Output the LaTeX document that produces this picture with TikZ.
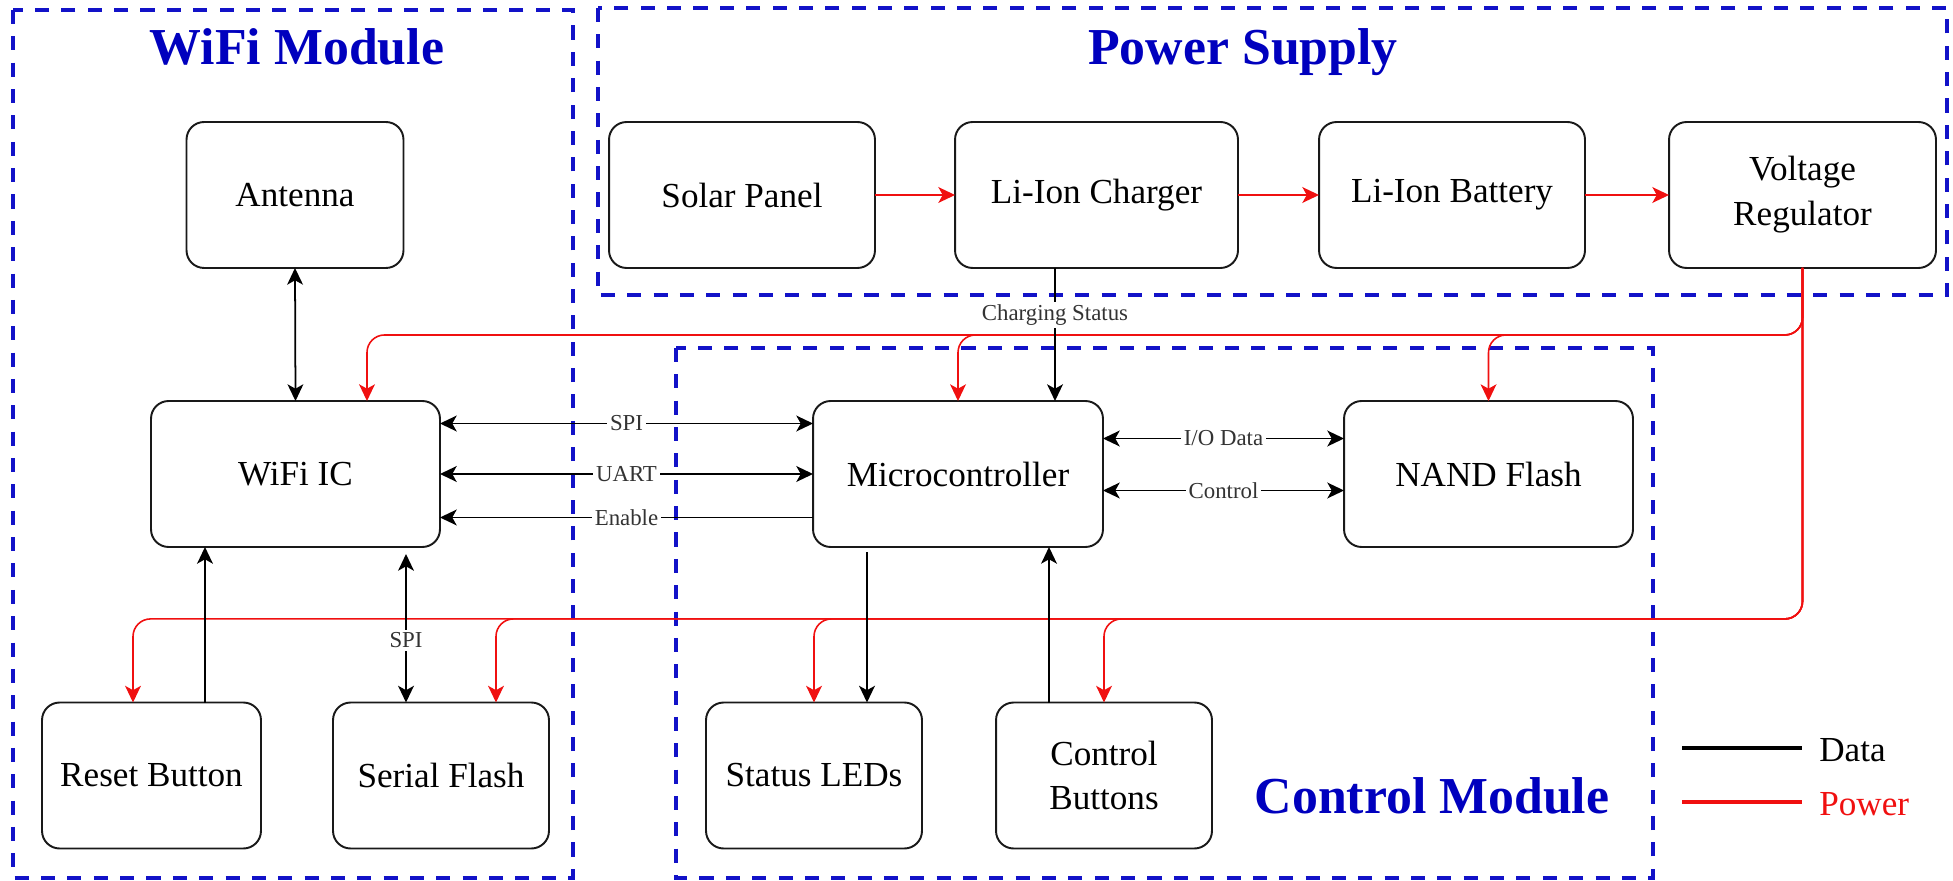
\documentclass[tikz,border=0pt]{standalone}
\usepackage{fontspec}
\setmainfont{Liberation Serif}
\usetikzlibrary{arrows.meta,calc}
\definecolor{grpblue}{RGB}{18,18,200}
\definecolor{ttlblue}{RGB}{0,0,190}
\definecolor{pwrred}{RGB}{240,16,16}
\tikzset{
  >={Stealth[length=9.5pt,width=9pt,inset=2.5pt]},
  blk/.style={draw=black!90, line width=1.1pt, rounded corners=10pt, inner sep=0pt, outer sep=0pt,
              minimum height=2.92cm, align=center, font=\fontsize{20}{25.5}\selectfont},
  grp/.style={draw=grpblue, line width=2.6pt, dash pattern=on 8pt off 7pt},
  ttl/.style={text=ttlblue, font=\fontsize{29.5}{32}\selectfont\bfseries, anchor=base, inner sep=0pt},
  data/.style={draw=black, line width=1pt, ->},
  data2/.style={draw=black, line width=1pt, <->},
  power/.style={draw=pwrred, line width=0.9pt, ->, rounded corners=10pt},
  lbl/.style={fill=white, inner sep=1.5pt, text=black!80, font=\fontsize{13}{15}\selectfont},
  legtxt/.style={anchor=west, inner sep=0pt, font=\fontsize{20}{24}\selectfont}
}
\begin{document}
\begin{tikzpicture}[x=0.02cm, y=-0.02cm]
\useasboundingbox (0,0) rectangle (1953,881);

% group boxes
\draw[grp] (13,10) rectangle (573,878);
\draw[grp] (598,8) rectangle (1947,295);
\draw[grp] (676,348) rectangle (1653,878);

% titles
\node[ttl] (t1) at (297,65) {WiFi Module};
\node[ttl] (t2) at (1243,65) {Power Supply};
\node[ttl] (t3) at (1432,813) {Control Module};

% blocks
\node[blk, minimum width=4.34cm] (ant) at (295,195) {Antenna};
\node[blk, minimum width=5.32cm] (solar) at (742,195) {Solar Panel};
\node[blk, minimum width=5.66cm] (charger) at (1096.5,195) {Li-Ion Charger};
\node[blk, minimum width=5.32cm] (batt) at (1452,195) {Li-Ion Battery};
\node[blk, minimum width=5.34cm] (reg) at (1802.5,195) {Voltage\\Regulator};
\node[blk, minimum width=5.78cm] (wifi) at (295.5,474) {WiFi IC};
\node[blk, minimum width=5.8cm] (mcu) at (958,474) {Microcontroller};
\node[blk, minimum width=5.78cm] (nand) at (1488.5,474) {NAND Flash};
\node[blk, minimum width=4.38cm] (reset) at (151.5,775.5) {Reset Button};
\node[blk, minimum width=4.32cm] (sflash) at (441,775.5) {Serial Flash};
\node[blk, minimum width=4.32cm] (leds) at (814,775.5) {Status LEDs};
\node[blk, minimum width=4.32cm] (cbtn) at (1104,775.5) {Control\\Buttons};

% power chain
\draw[power] (solar) -- (charger);
\draw[power] (charger) -- (batt);
\draw[power] (batt) -- (reg);

% power distribution
\coordinate (bus1) at ([yshift=-1.34cm]reg.south);
\coordinate (bus2) at ([yshift=-7.02cm]reg.south);
\draw[power] (reg.south) -- (bus1) -| ([xshift=1.43cm]wifi.north);
\draw[power] (reg.south) -- (bus1) -| (mcu.north);
\draw[power] (reg.south) -- (bus1) -| (nand.north);
\draw[power] (reg.south) -- (bus2) -| ([xshift=-0.37cm]reset.north);
\draw[power] (reg.south) -- (bus2) -| ([xshift=1.1cm]sflash.north);
\draw[power] (reg.south) -- (bus2) -| (leds.north);
\draw[power] (reg.south) -- (bus2) -| (cbtn.north);

% data
\draw[data2] (ant.south) -- (wifi.north);
\draw[data2] ([yshift=1.01cm]wifi.east) -- ([yshift=1.01cm]wifi.east -| mcu.west) node[midway,lbl] {SPI};
\draw[data2] (wifi.east) -- (wifi.east -| mcu.west) node[midway,lbl] {UART};
\draw[data] ([yshift=-0.87cm]wifi.east -| mcu.west) -- ([yshift=-0.87cm]wifi.east) node[midway,lbl] {Enable};
\draw[data2] ([yshift=0.71cm]mcu.east) -- ([yshift=0.71cm]mcu.east -| nand.west) node[midway,lbl] {I/O Data};
\draw[data2] ([yshift=-0.33cm]mcu.east) -- ([yshift=-0.33cm]mcu.east -| nand.west) node[midway,lbl] {Control};
\draw[data] ([xshift=-0.83cm]charger.south) -- ([xshift=-0.83cm]charger.south |- mcu.north) node[pos=0.35,lbl] {Charging Status};
\draw[data, shorten <=3pt] ([xshift=1.06cm]leds.north |- mcu.south) -- ([xshift=1.06cm]leds.north);
\draw[data] ([xshift=-1.1cm]cbtn.north) -- ([xshift=-1.1cm]cbtn.north |- mcu.south);
\draw[data] ([xshift=1.07cm]reset.north) -- ([xshift=1.07cm]reset.north |- wifi.south);
\draw[data2, shorten >=4pt] ([xshift=-0.7cm]sflash.north) -- ([xshift=-0.7cm]sflash.north |- wifi.south) node[pos=0.4,lbl] {SPI};

% legend
\coordinate (lda) at (1682,748);
\coordinate (ldb) at (1802,748);
\coordinate (lpa) at (1682,802);
\coordinate (lpb) at (1802,802);
\draw[black, line width=2pt] (lda) -- (ldb);
\draw[pwrred, line width=2pt] (lpa) -- (lpb);
\node[legtxt] (ld) at (1819,750) {Data};
\node[legtxt, text=pwrred] (lp) at (1819,804) {Power};
\end{tikzpicture}
\end{document}
